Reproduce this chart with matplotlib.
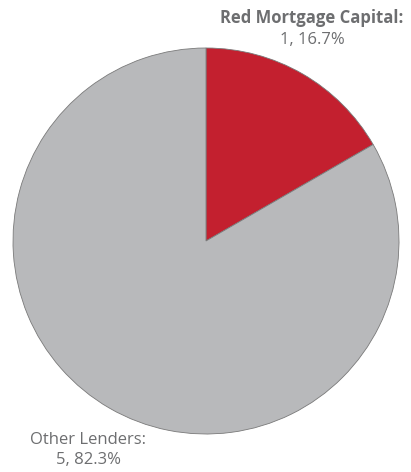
import matplotlib.pyplot as plt

# Datos del gráfico
lenders = ["Red Mortgage Capital", "Other Lenders"]
counts = [1, 5]
pct_labels = ["16.7%", "82.3%"]
colors = ["#C3202F", "#B8B9BB"]

fig = plt.figure(figsize=(4.11, 4.72), dpi=100)
ax = fig.add_axes([13 / 411, 38 / 472, 386 / 411, 386 / 472])
ax.pie(counts, colors=colors, startangle=90, counterclock=False,
       wedgeprops={"edgecolor": "#7a7a7a", "linewidth": 0.6})
ax.set_aspect("equal")
ax.set_xlim(-1, 1)
ax.set_ylim(-1, 1)
ax.axis("off")

txt = "#6D6E70"
fig.text(312 / 411, 1 - 18 / 472, lenders[0] + ":", ha="center", va="center",
         fontsize=12, fontweight="bold", color=txt, family="Open Sans")
fig.text(312 / 411, 1 - 40 / 472, f"{counts[0]}, {pct_labels[0]}", ha="center",
         va="center", fontsize=12, color=txt, family="Open Sans")
fig.text(88 / 411, 1 - 440 / 472, lenders[1] + ":", ha="center", va="center",
         fontsize=12, color=txt, family="Open Sans")
fig.text(88 / 411, 1 - 460 / 472, f"{counts[1]}, {pct_labels[1]}", ha="center",
         va="center", fontsize=12, color=txt, family="Open Sans")

fig.savefig("out.png", dpi=100)
